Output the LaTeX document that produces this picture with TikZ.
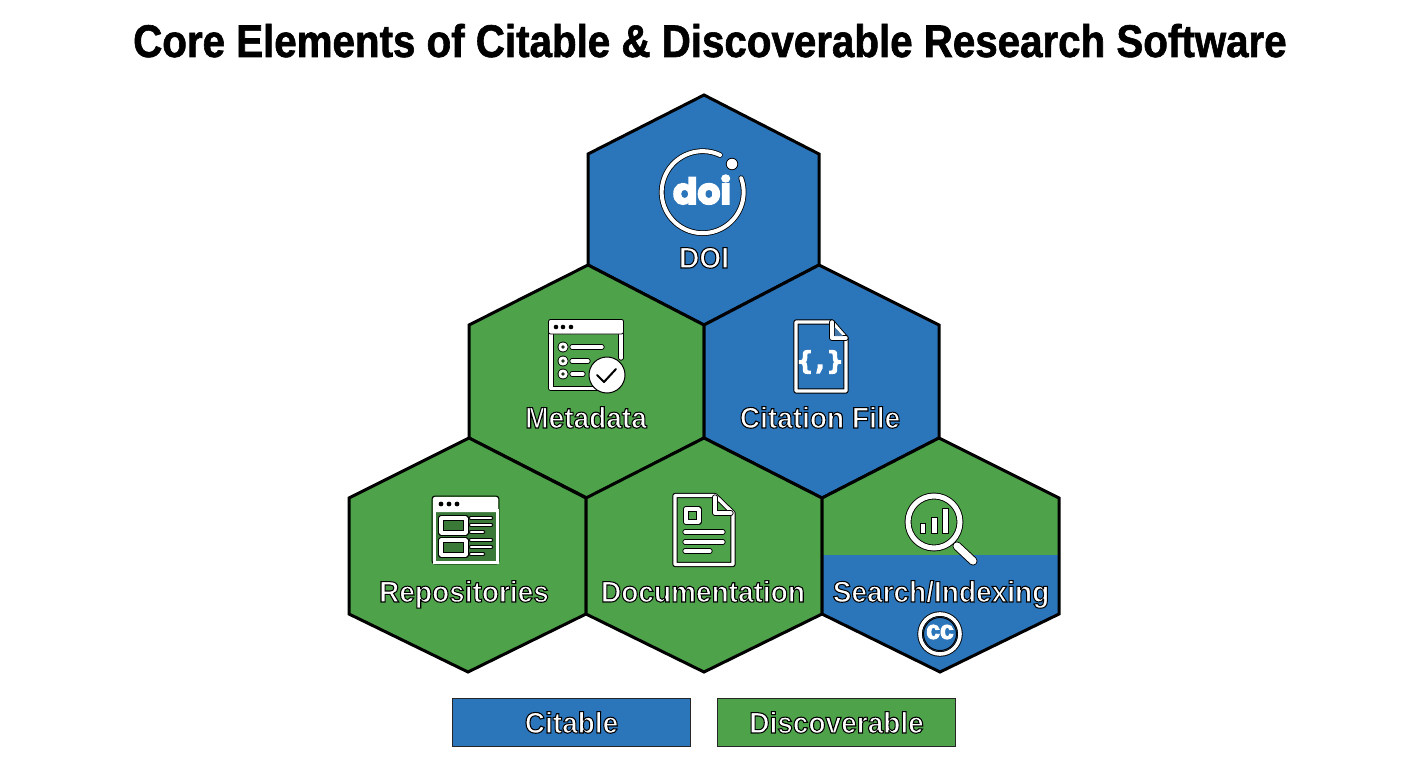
\documentclass[tikz,border=0pt]{standalone}
\usepackage{fontspec}
\setmainfont{Liberation Sans}
\newfontfamily\titlefont[FakeStretch=0.88]{Liberation Sans Bold}
\newfontfamily\labfont[FakeStretch=0.95]{Liberation Sans Bold}
\newfontfamily\doifont{Poppins Bold}
\newfontfamily\monofont{DejaVu Sans Mono Bold}
\newcommand{\olt}[2][1.05]{\special{pdf:code 2 Tr #1 w 0 0 0 RG 1 1 1 rg}#2\special{pdf:code 0 Tr}}
\newcommand{\wlt}[2][1]{\special{pdf:code 2 Tr #1 w 1 1 1 RG 1 1 1 rg}#2\special{pdf:code 0 Tr}}
\newcommand{\blt}[2][0.6]{\special{pdf:code 2 Tr #1 w 0 0 0 RG 0 0 0 rg}#2\special{pdf:code 0 Tr}}
\definecolor{cblue}{HTML}{2B75BB}
\definecolor{cgreen}{HTML}{4EA24A}
\tikzset{
  hexa/.style={draw=black,line width=3,line join=miter},
  lab/.style={anchor=base,inner sep=0,text=white,font=\fontsize{29.5}{32}\labfont},
  legbox/.style={draw=black!85,line width=1.4,minimum width=238,minimum height=47.5,inner sep=0,anchor=north west},
  wl/.style={draw=black,double=white,double distance=3.4,line width=0.9,line cap=round,line join=round},
  wlf/.style={draw=black,line width=0.9,fill=white}
}
\begin{document}
\begin{tikzpicture}[x=1pt,y=-1pt]
\useasboundingbox (0,0) rectangle (1408,768);
\fill[white] (0,0) rectangle (1408,768);
\node[anchor=base,inner sep=0,font=\fontsize{45.8}{50}\titlefont] (title) at (710,57) {\blt{Core Elements of Citable \& Discoverable Research Software}};
% hexagons
\filldraw[hexa,fill=cblue] (704,95)--(819,154)--(819,265)--(704,325)--(588,265)--(588,154)--cycle;
\filldraw[hexa,fill=cgreen] (588,265)--(704,325)--(704,438)--(587,498)--(469,438)--(469,325)--cycle;
\filldraw[hexa,fill=cblue] (819,265)--(939,325)--(939,438)--(822,498)--(704,438)--(704,325)--cycle;
\filldraw[hexa,fill=cgreen] (469,438)--(586,498)--(586,614)--(468,672)--(349,614)--(349,498)--cycle;
\filldraw[hexa,fill=cgreen] (704,438)--(822,498)--(822,614)--(704,672)--(586,614)--(586,498)--cycle;
\fill[cgreen] (939,438)--(1059,498)--(1059,555)--(822,555)--(822,498)--cycle;
\fill[cblue] (822,555)--(1059,555)--(1059,614)--(940,672)--(822,614)--cycle;
\draw[hexa] (939,438)--(1059,498)--(1059,614)--(940,672)--(822,614)--(822,498)--cycle;
% DOI icon
\draw[black,line width=5.6,line cap=round] (720,155) arc[start angle=-65,end angle=-380,radius=41];
\draw[white,line width=4,line cap=round] (720,155) arc[start angle=-65,end angle=-380,radius=41];
\filldraw[fill=white,draw=black,line width=0.8] (732,164) circle (5.8);
\node[anchor=base,inner sep=0,text=white,font=\fontsize{36}{38}\doifont] (doi) at (702,204) {\wlt[1.6]{doi}};
% Metadata icon
\draw[wl] (597,388.5)--(551,388.5)--(551,322)--(621,322)--(621,358);
\fill[white,draw=black,line width=0.8,rounded corners=2] (548.5,319.5)--(623.5,319.5)--(623.5,334)--(548.5,334)--cycle;
\foreach \x in {556,563,571}{\fill[black] (\x,327) circle (2.3);}
\foreach \y/\e in {347/602,361/588,374/583}{
  \draw[wl,double distance=2.8] (563,\y) circle (3.2);
  \draw[wl] (572,\y)--(\e,\y);
}
\filldraw[wlf,line width=1] (607,375) circle (18);
\draw[black,line width=2,line cap=round,line join=round] (597,375)--(604,382)--(616,369);
% Citation icon
\draw[wl] (832,322)--(796,322)--(796,391)--(846,391)--(846,338)--cycle;
\draw[wl] (832,322)--(832,338)--(846,338);
\fill[cblue!70!gray] (834.5,327)--(834.5,336)--(843,336)--cycle;
\node[anchor=center,inner sep=0,text=white,font=\fontsize{25}{26}\monofont] (cite) at (820,362) {\wlt[1.2]{\{,\}}};
% Repositories icon
\filldraw[fill=cgreen!75!black,draw=black,line width=0.9,rounded corners=3] (432,496) rectangle (499,564);
\fill[white,rounded corners=2] (433,497) rectangle (498,512);
\draw[white,line width=3] (434,510) rectangle (497,562.5);
\foreach \x in {441,449,457}{\fill[black] (\x,504) circle (2.4);}
\draw[wl] (441,518) rectangle (466,533);
\draw[wl] (441,540) rectangle (466,555);
\foreach \y/\e in {518/491,525/491,532/483,540/491,547/491,554/483}{\draw[wl,double distance=2.8] (471,\y)--(\e,\y);}
% Documentation icon
\draw[wl] (715,495.5)--(675,495.5)--(675,564.5)--(733,564.5)--(733,513)--cycle;
\draw[wl] (715,497)--(715,513)--(731,513);
\draw[wl] (686,509)rectangle(699,522);
\draw[wl] (685,532)--(723,532);
\draw[wl] (685,542)--(723,542);
\draw[wl] (685,551)--(710,551);
% Search icon
\draw[draw=black,line width=9,line cap=round] (957,546)--(973,561);
\draw[draw=white,line width=7.2,line cap=round] (957,546)--(973,561);
\draw[black,line width=6.8] (934,522) circle (26);
\draw[white,line width=5] (934,522) circle (26);
\filldraw[wlf] (920,523) rectangle (925.5,533);
\filldraw[wlf] (931,517) rectangle (937,533);
\filldraw[wlf] (942,508) rectangle (948,533);
% Labels
\node[lab] (ldoi) at (704,268) {\olt{DOI}};
\node[lab] (lmeta) at (586,428) {\olt{Metadata}};
\node[lab] (lcite) at (820,428) {\olt{Citation File}};
\node[lab] (lrepo) at (464,602) {\olt{Repositories}};
\node[lab] (ldocu) at (703,602) {\olt{Documentation}};
\node[lab] (lsear) at (941,602) {\olt{Search/Indexing}};
% CC icon
\draw[black,line width=5.4] (940,634) circle (20);
\draw[white,line width=3.6] (940,634) circle (20);
\draw[black,line width=1] (940,634) circle (16.5);
\node[anchor=center,inner sep=0,text=white,font=\fontsize{26}{26}\labfont] (cc) at (940,632) {\wlt[0.9]{cc}};
% Legend
\node[legbox,fill=cblue] (lega) at (452,698) {};
\node[legbox,fill=cgreen] (legb) at (717,698) {};
\node[lab] (lt1) at (571.5,733) {\olt{Citable}};
\node[lab] (lt2) at (836.5,733) {\olt{Discoverable}};
\end{tikzpicture}
\end{document}
